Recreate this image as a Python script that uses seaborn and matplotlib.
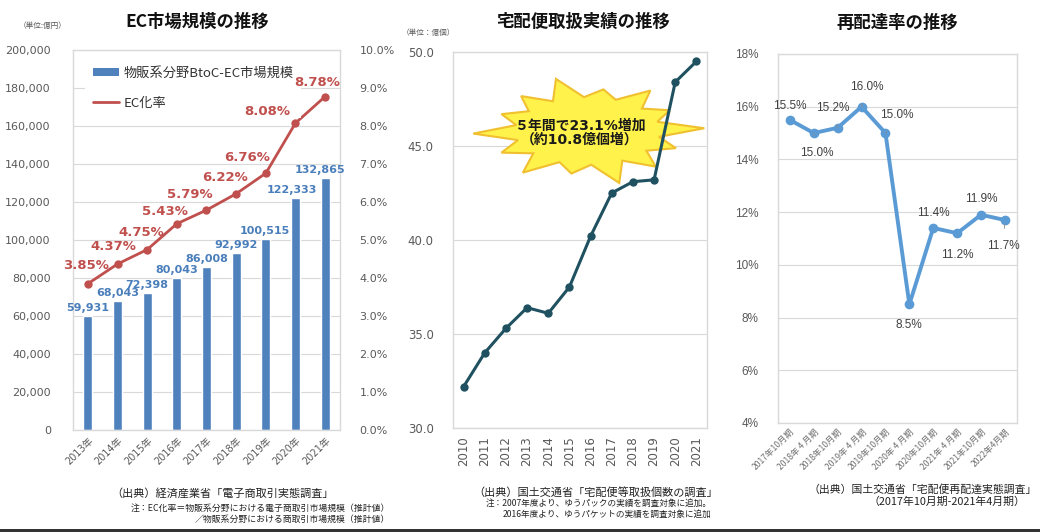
import numpy as np
import matplotlib
matplotlib.use('Agg')
import matplotlib.pyplot as plt
import seaborn as sns
from matplotlib.patches import Polygon, Rectangle
from matplotlib.lines import Line2D
from matplotlib.ticker import FuncFormatter

# ---------------- data ----------------
ec_years = ['2013年', '2014年', '2015年', '2016年', '2017年', '2018年', '2019年', '2020年', '2021年']
ec_market = [59931, 68043, 72398, 80043, 86008, 92992, 100515, 122333, 132865]
ec_rate = [3.85, 4.37, 4.75, 5.43, 5.79, 6.22, 6.76, 8.08, 8.78]

parcel_years = ['2010', '2011', '2012', '2013', '2014', '2015', '2016', '2017', '2018', '2019', '2020', '2021']
parcel_counts = [32.2, 34.0, 35.3, 36.4, 36.1, 37.5, 40.2, 42.5, 43.1, 43.2, 48.4, 49.5]

redelivery_periods = ['2017年10月期', '2018年 4 月期', '2018年10月期', '2019年 4 月期', '2019年10月期',
                      '2020年 4 月期', '2020年10月期', '2021年 4 月期', '2021年10月期', '2022年4月期']
redelivery_rate = [15.5, 15.0, 15.2, 16.0, 15.0, 8.5, 11.4, 11.2, 11.9, 11.7]

# ---------------- style ----------------
sns.set_style('white')
plt.rcParams['font.family'] = ['DejaVu Sans', 'Noto Sans CJK JP']
JP = ['Noto Sans CJK JP', 'DejaVu Sans']
GRID = '#d9d9d9'
TICK = '#595959'
BLUE = '#4F81BD'
RED = '#C0504D'

fig = plt.figure(figsize=(10.4, 5.32), dpi=100)
fig.patch.set_facecolor('white')


def style_axes(ax):
    for s in ax.spines.values():
        s.set_color(GRID)
        s.set_linewidth(1.0)
    ax.tick_params(length=0, colors=TICK)
    ax.yaxis.grid(True, color=GRID, lw=0.8)
    ax.xaxis.grid(False)
    ax.set_axisbelow(True)
    ax.set_xlabel('')
    ax.set_ylabel('')


# ---------------- left: EC market ----------------
ax1 = fig.add_axes([0.0702, 0.1917, 0.2567, 0.714])
sns.barplot(x=ec_years, y=ec_market, color=BLUE, saturation=1, width=0.3, ax=ax1)
ax1.set_xlim(-0.5, len(ec_years) - 0.5)
ax1.set_ylim(0, 200000)
ax1.set_yticks(np.arange(0, 200001, 20000))
ax1.yaxis.set_major_formatter(FuncFormatter(lambda v, p: f'{int(v):,}'))
style_axes(ax1)
ax1.tick_params(axis='y', labelsize=8, pad=16)
ax1.set_xticks(range(len(ec_years)))
ax1.set_xticklabels(ec_years, rotation=45, ha='right', rotation_mode='anchor', fontsize=7, color=TICK)
ax1.tick_params(axis='x', pad=4)

bar_dx = [0, 0, 0, 0, 0, 0, -1, -4, -5]
for i, v in enumerate(ec_market):
    ax1.annotate(f'{v:,}', (i, v), xytext=(bar_dx[i], 3), textcoords='offset pixels',
                 ha='center', va='bottom', fontsize=8, fontweight='bold', color='#4A7EBB')

ax2 = ax1.twinx()
sns.lineplot(x=np.arange(len(ec_rate)), y=ec_rate, ax=ax2, color=RED, lw=2,
             marker='o', markersize=6, markeredgewidth=0)
ax2.set_xlim(-0.5, len(ec_years) - 0.5)
ax2.set_ylim(0, 10)
ax2.set_yticks(np.arange(0, 10.01, 1))
ax2.yaxis.set_major_formatter(FuncFormatter(lambda v, p: f'{v:.1f}%'))
for s in ax2.spines.values():
    s.set_visible(False)
ax2.tick_params(length=0, colors=TICK, labelsize=8, pad=14)
ax2.set_ylabel('')
rate_off = [(-2, 12), (-4, 11), (-6, 11), (-12, 6), (-17, 9), (-11, 10), (-19, 9), (-28, 5), (-8, 8)]
for i, v in enumerate(ec_rate):
    ax2.annotate(f'{v:.2f}%', (i, v), xytext=rate_off[i], textcoords='offset pixels',
                 ha='center', va='bottom', fontsize=9.5, fontweight='bold', color=RED, zorder=10)

handles = [Rectangle((0, 0), 1, 1, facecolor=BLUE, edgecolor='none'),
           Line2D([], [], color=RED, lw=2)]
leg = ax2.legend(handles, ['物販系分野BtoC-EC市場規模', 'EC化率'], loc='upper left',
                 bbox_to_anchor=(0.02, 0.995), frameon=True, facecolor='white', edgecolor='none',
                 framealpha=1, fancybox=False, prop={'family': JP, 'size': 9.5},
                 handlelength=2.0, handleheight=0.6, labelspacing=1.3, handletextpad=0.3,
                 borderpad=0.6)
leg.set_zorder(4)
for t in leg.get_texts():
    t.set_color('#333333')

fig.text(0.19, 0.958, 'EC市場規模の推移', ha='center', va='center', fontsize=12.5,
         fontweight='bold', family=JP, color='#111111')
fig.text(0.041, 0.951, '（単位:億円）', ha='center', va='center', fontsize=5.5, family=JP, color=TICK)

# ---------------- middle: parcels ----------------
ax3 = fig.add_axes([0.4356, 0.1955, 0.2442, 0.7068])

# starburst callout (decoration)
cx, cy = 0.53, 0.79
rx, ry = 0.46, 0.125
outer = [1.0, 0.80, 0.92, 0.78, 1.0, 0.86, 0.80, 0.98, 0.84, 0.95, 0.80, 1.0, 0.88, 0.82]
n = len(outer)
verts = []
for k in range(n):
    a0 = 2 * np.pi * k / n + 0.05
    a1 = a0 + np.pi / n
    verts.append((cx + rx * outer[k] * np.cos(a0), cy + ry * 1.15 * outer[k] * np.sin(a0)))
    verts.append((cx + rx * 0.62 * np.cos(a1), cy + ry * 0.72 * np.sin(a1)))
star = Polygon(verts, closed=True, transform=ax3.transAxes, facecolor='#FFF24A',
               edgecolor='#F0C030', lw=1.5, zorder=1, clip_on=False)
ax3.add_patch(star)

sns.lineplot(x=np.arange(len(parcel_counts)), y=parcel_counts, ax=ax3, color='#1F5160', lw=2.2,
             marker='o', markersize=6, markeredgewidth=0, zorder=3)
ax3.set_xlim(-0.5, len(parcel_years) - 0.5)
ax3.set_ylim(30, 50)
ax3.set_yticks([30, 35, 40, 45, 50])
ax3.yaxis.set_major_formatter(FuncFormatter(lambda v, p: f'{v:.1f}'))
style_axes(ax3)
ax3.tick_params(axis='y', labelsize=8.5, pad=14)
ax3.set_xticks(range(len(parcel_years)))
ax3.set_xticklabels(parcel_years, rotation=90, fontsize=8.5, color=TICK)
ax3.tick_params(axis='x', pad=6)
ax3.text(0.50, 0.785, '５年間で23.1%増加\n（約10.8億個増）', transform=ax3.transAxes, ha='center',
         va='center', fontsize=10, fontweight='bold', color='#1a1a1a', linespacing=1.05, zorder=5)

fig.text(0.561, 0.958, '宅配便取扱実績の推移', ha='center', va='center', fontsize=12.5,
         fontweight='bold', family=JP, color='#111111')
fig.text(0.412, 0.938, '（単位：億個）', ha='center', va='center', fontsize=5.5, family=JP, color=TICK)

# ---------------- right: redelivery ----------------
ax4 = fig.add_axes([0.748, 0.2049, 0.2298, 0.6936])
sns.lineplot(x=np.arange(len(redelivery_rate)), y=redelivery_rate, ax=ax4, color='#5B9BD5', lw=2.8,
             marker='o', markersize=7, markeredgewidth=0)
ax4.set_xlim(-0.5, len(redelivery_periods) - 0.5)
ax4.set_ylim(4, 18)
ax4.set_yticks(np.arange(4, 18.01, 2))
ax4.yaxis.set_major_formatter(FuncFormatter(lambda v, p: f'{int(round(v))}%'))
style_axes(ax4)
ax4.tick_params(axis='y', labelsize=8.5, pad=14)
for t in ax4.get_yticklabels():
    t.set_family('Liberation Sans')
ax4.set_xticks(range(len(redelivery_periods)))
ax4.set_xticklabels(redelivery_periods, rotation=45, ha='right', rotation_mode='anchor',
                    fontsize=6.2, color='#707070', family=JP)
ax4.tick_params(axis='x', pad=3)

red_off = [(0, 14), (3, -20), (-5, 20), (5, 20), (11, 18), (0, -21), (0, 15), (0, -22), (0, 16), (-2, -26)]
leader = [False, True, True, True, True, False, False, True, False, True]
for i, v in enumerate(redelivery_rate):
    dx, dy = red_off[i]
    ax4.annotate(f'{v:.1f}%', (i, v), xytext=(dx, dy), textcoords='offset pixels',
                 ha='center', va='center', fontsize=8.5, color='#404040', family='Liberation Sans',
                 arrowprops=(dict(arrowstyle='-', color='#8c8c8c', lw=0.6, shrinkA=6, shrinkB=3)
                             if leader[i] else None))

fig.text(0.863, 0.957, '再配達率の推移', ha='center', va='center', fontsize=12.5,
         fontweight='bold', family=JP, color='#111111')

# ---------------- footnotes ----------------
fig.text(0.2144, 0.0733, '（出典）経済産業省「電子商取引実態調査」', ha='center', va='center',
         fontsize=8, family=JP, color='#222222')
fig.text(0.375, 0.045, '注：EC化率＝物販系分野における電子商取引市場規模（推計値）', ha='right', va='center',
         fontsize=6.4, family=JP, color='#222222')
fig.text(0.375, 0.0244, '／物販系分野における商取引市場規模（推計値）', ha='right', va='center',
         fontsize=6.4, family=JP, color='#222222')

fig.text(0.573, 0.0752, '（出典）国土交通省「宅配便等取扱個数の調査」', ha='center', va='center',
         fontsize=8, family=JP, color='#222222')
fig.text(0.684, 0.0545, '注：2007年度より、ゆうパックの実績を調査対象に追加。', ha='right', va='center',
         fontsize=6.2, family=JP, color='#222222')
fig.text(0.684, 0.0338, '2016年度より、ゆうパケットの実績を調査対象に追加', ha='right', va='center',
         fontsize=6.2, family=JP, color='#222222')

fig.text(0.887, 0.079, '（出典）国土交通省「宅配便再配達実態調査」', ha='center', va='center',
         fontsize=7.8, family=JP, color='#222222')
fig.text(0.986, 0.0564, '（2017年10月期-2021年4月期）', ha='right', va='center',
         fontsize=7.8, family=JP, color='#222222')

fig.add_artist(Rectangle((0, 0), 1, 0.0056, transform=fig.transFigure, facecolor='#333333',
                         edgecolor='none'))

fig.savefig('out.png', dpi=100, facecolor='white')
